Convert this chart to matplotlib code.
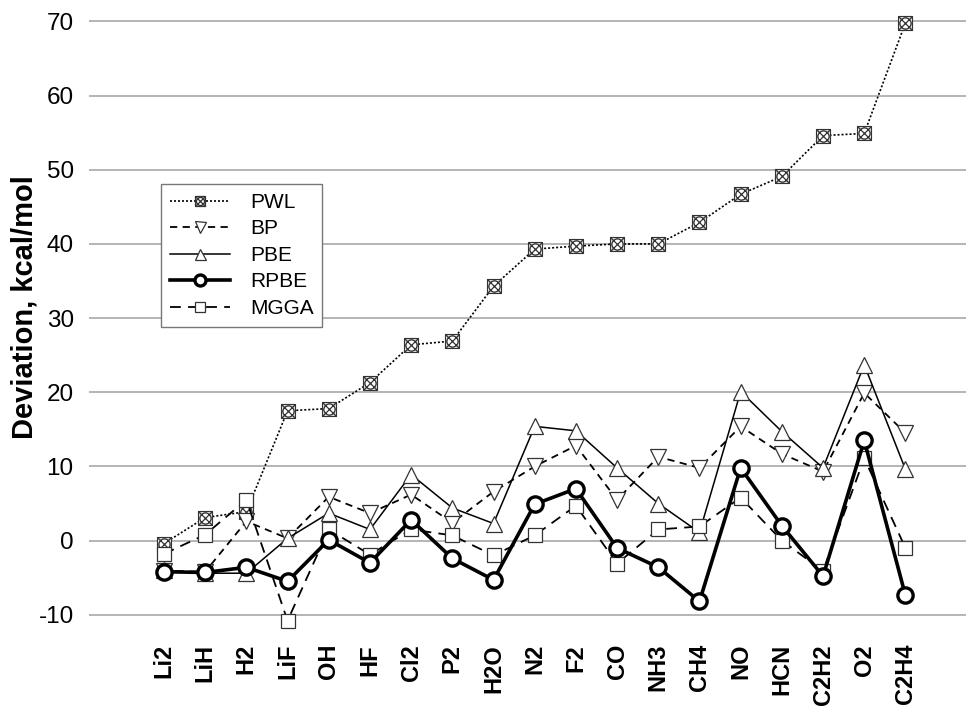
import numpy as np
import matplotlib
matplotlib.use("Agg")
import matplotlib.pyplot as plt
from matplotlib.path import Path

categories = ["Li2", "LiH", "H2", "LiF", "OH", "HF", "Cl2", "P2", "H2O", "N2",
              "F2", "CO", "NH3", "CH4", "NO", "HCN", "C2H2", "O2", "C2H4"]
pwl = [-0.4, 3.1, 3.9, 17.5, 17.8, 21.3, 26.4, 26.9, 34.3, 39.3,
       39.7, 40.0, 40.0, 42.9, 46.7, 49.1, 54.6, 54.9, 69.8]
bp = [-4.1, -4.2, 2.6, 0.3, 5.9, 3.7, 6.2, 2.4, 6.6, 10.0,
      12.8, 5.5, 11.3, 9.8, 15.4, 11.7, 9.3, 19.9, 14.5]
pbe = [-4.0, -4.4, -4.4, 0.3, 3.7, 1.5, 8.9, 4.4, 2.3, 15.4,
       14.8, 9.8, 5.0, 1.1, 20.1, 14.7, 9.8, 23.7, 9.6]
rpbe = [-4.2, -4.3, -3.6, -5.5, 0.1, -3.0, 2.8, -2.4, -5.3, 4.9,
        7.0, -1.0, -3.6, -8.2, 9.8, 2.0, -4.8, 13.5, -7.4]
mgga = [-1.8, 0.8, 5.5, -10.8, 1.5, -1.9, 1.5, 0.7, -2.0, 0.7,
        4.7, -3.1, 1.5, 1.9, 5.8, 0.0, -4.1, 11.1, -1.0]
series_names = ["PWL", "BP", "PBE", "RPBE", "MGGA"]
yticks = [-10, 0, 10, 20, 30, 40, 50, 60, 70]

# boxed cross marker (square + X + circle)
sq = Path([(-1, -1), (1, -1), (1, 1), (-1, 1), (-1, -1)],
          [Path.MOVETO, Path.LINETO, Path.LINETO, Path.LINETO, Path.CLOSEPOLY])
d1 = Path([(-1, -1), (1, 1)], [Path.MOVETO, Path.LINETO])
d2 = Path([(-1, 1), (1, -1)], [Path.MOVETO, Path.LINETO])
circ = Path.circle((0, 0), 0.8)
boxx = Path.make_compound_path(sq, d1, d2, circ)

fig = plt.figure(figsize=(9.68, 7.07), dpi=100)
ax = fig.add_axes([89/968, 1 - 637/707, 877/968, 623/707])

x = np.arange(len(categories))
gray = "#333333"
ax.plot(x, pwl, linestyle=(0, (1.2, 1.2)), color="black", lw=1.2,
        marker=boxx, ms=10, mfc="white", mec=gray, mew=0.9, label=series_names[0], zorder=3)
ax.plot(x, bp, linestyle=(0, (4, 3)), color="black", lw=1.3,
        marker="v", ms=11, mfc="white", mec=gray, mew=0.9, label=series_names[1], zorder=3)
ax.plot(x, pbe, linestyle="-", color="black", lw=1.1,
        marker="^", ms=11, mfc="white", mec=gray, mew=0.9, label=series_names[2], zorder=3)
ax.plot(x, rpbe, linestyle="-", color="black", lw=2.6,
        marker="o", ms=11, mfc="white", mec="black", mew=2.4, label=series_names[3], zorder=4)
ax.plot(x, mgga, linestyle=(0, (6, 4)), color="black", lw=1.3,
        marker="s", ms=10, mfc="white", mec=gray, mew=0.9, label=series_names[4], zorder=3)

ax.set_xlim(-1.82, 19.47)
ax.set_ylim(-13, 71)
ax.set_yticks(yticks)
ax.set_yticklabels([str(v) for v in yticks], fontsize=17.5, family="Liberation Sans")
ax.set_xticks(x)
ax.set_xticklabels(categories, rotation=90, fontsize=17, fontweight="bold",
                   family="Liberation Sans", va="top")
ax.tick_params(axis="both", length=0)
ax.tick_params(axis="y", pad=11)
ax.tick_params(axis="x", pad=5)
ax.yaxis.grid(True, color="#a8a8a8", lw=1.2)
ax.set_axisbelow(True)
for s in ax.spines.values():
    s.set_visible(False)

fig.text(25/968, 1 - 307/707, "Deviation, kcal/mol", rotation=90, ha="center",
         va="center", fontsize=21, fontweight="bold", family="Liberation Sans")

leg = ax.legend(loc="upper left", bbox_to_anchor=(0.082, 0.727), borderaxespad=0,
                prop={"family": "Liberation Sans", "size": 15}, handlelength=2.9,
                handletextpad=0.95, labelspacing=0.36, borderpad=0.42,
                markerscale=0.72,
                fancybox=False, framealpha=1, edgecolor="#777777")
leg.get_frame().set_linewidth(1.0)

fig.savefig("out.png", dpi=100)
